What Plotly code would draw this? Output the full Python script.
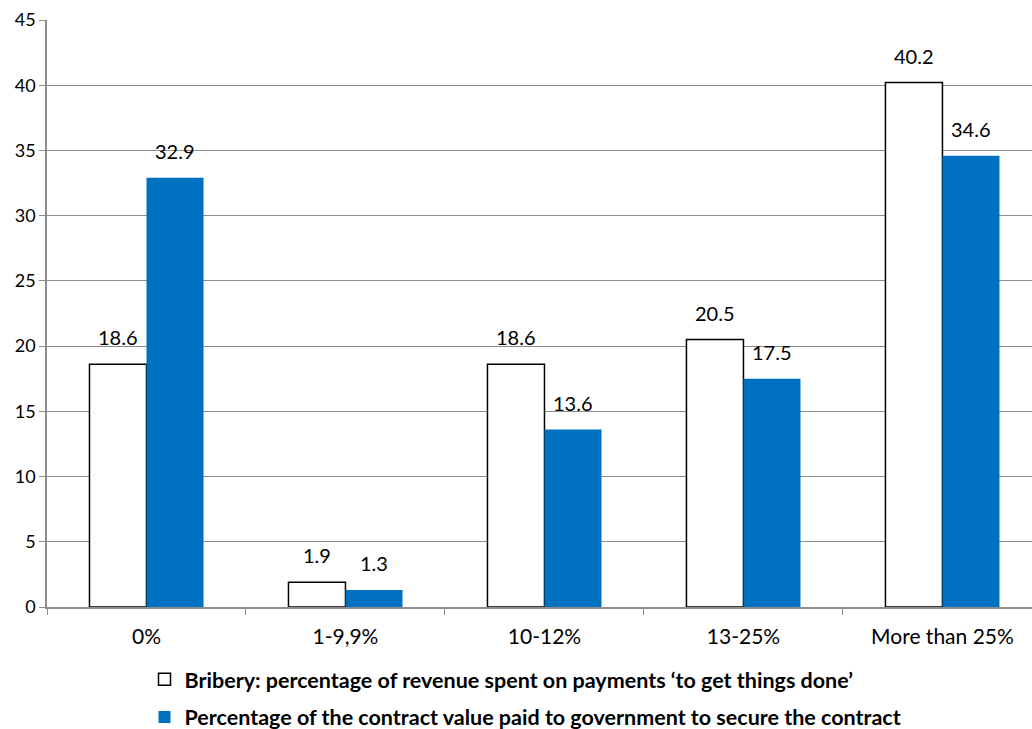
import plotly.graph_objects as go

categories = ["0%", "1-9,9%", "10-12%", "13-25%", "More than 25%"]
bribery = [18.6, 1.9, 18.6, 20.5, 40.2]
contract = [32.9, 1.3, 13.6, 17.5, 34.6]
series_names = [
    "Bribery: percentage of revenue spent on payments ‘to get things done’",
    "Percentage of the contract value paid to government to secure the contract",
]
y_ticks = list(range(0, 50, 5))

FONT = "Lato, 'Open Sans', sans-serif"
BLUE = "#0070C0"
GRID = "#8c8c8c"

fig = go.Figure()
fig.add_trace(go.Bar(
    x=categories, y=bribery, name=series_names[0],
    marker=dict(color="white", line=dict(color="black", width=1.5)),
    legendgroup="a",
))
fig.add_trace(go.Bar(
    x=categories, y=contract, name=series_names[1],
    marker=dict(color=BLUE, line=dict(width=0)),
    legendgroup="b",
))

for vals, dx in ((bribery, -28.5), (contract, 28.5)):
    for c, v in zip(categories, vals):
        fig.add_annotation(
            x=c, y=v, text=f"{v:.1f}", showarrow=False,
            xshift=dx, yshift=13, yanchor="bottom",
            font=dict(family=FONT, size=20, color="black"),
        )

fig.update_layout(
    width=1032, height=729,
    margin=dict(l=47, r=0, t=20, b=122, autoexpand=False),
    paper_bgcolor="white", plot_bgcolor="white",
    barmode="group", bargap=0.427, bargroupgap=0,
    font=dict(family=FONT, size=16, color="black"),
    showlegend=True,
    legend=dict(
        orientation="v", x=0.099, xanchor="left", y=-0.088, yanchor="top",
        font=dict(family=FONT, size=21.5, color="black", weight="bold"),
        tracegroupgap=7, itemwidth=30, traceorder="grouped",
    ),
)
fig.update_xaxes(
    type="category", range=[-0.5, 4.45], automargin=False,
    showline=True, linecolor=GRID, linewidth=1.5,
    ticks="outside", tickson="boundaries", ticklen=6, tickcolor=GRID,
    showgrid=False, ticklabelstandoff=10,
    tickfont=dict(family=FONT, size=21),
)
fig.update_yaxes(
    range=[0, 45], tickvals=y_ticks, automargin=False,
    showline=True, linecolor=GRID, linewidth=1.5,
    ticks="outside", ticklen=6, tickcolor=GRID,
    showgrid=True, gridcolor=GRID, gridwidth=1.2,
    zeroline=False,
    tickfont=dict(family=FONT, size=18),
)

fig.write_html(
    "out.html",
    config={"displayModeBar": False},
    post_script="document.body.style.margin='0';document.body.style.padding='0';",
)
